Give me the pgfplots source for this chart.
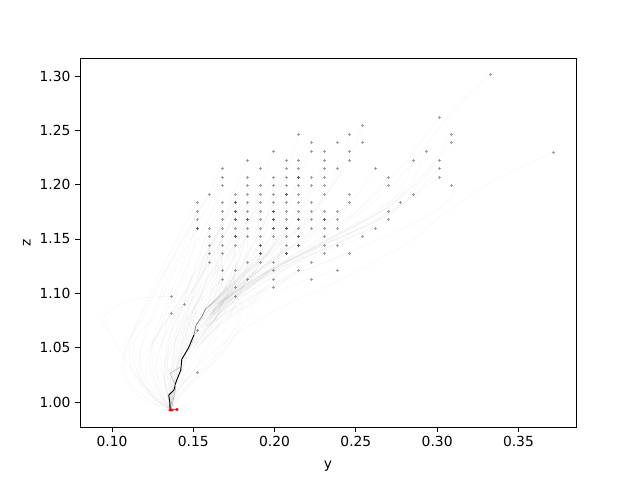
\documentclass[border=0pt]{standalone}
\usepackage{pgfplots}
\pgfplotsset{compat=1.18}
\usepackage{fontspec}
\setmainfont{DejaVu Sans}
\newcommand{\tr}[1]{\addplot[traj] coordinates {#1};}
\begin{document}
\begin{tikzpicture}[x=1pt,y=1pt]
\useasboundingbox (-60pt,-39.75pt) rectangle (420pt,320.25pt);
\begin{axis}[
  scale only axis, width=372pt, height=276.75pt,
  at={(0pt,0pt)}, anchor=south west,
  xmin=0.0803, xmax=0.3854, ymin=0.977, ymax=1.3166,
  xtick={0.10,0.15,0.20,0.25,0.30,0.35},
  ytick={1.00,1.05,1.10,1.15,1.20,1.25,1.30},
  xtick pos=bottom, ytick pos=left, tick align=outside,
  major tick length=3.65pt,
  every tick/.style={black,line width=0.6pt},
  axis line style={line width=0.6pt},
  tick label style={font=\fontsize{10.4}{12}\selectfont},
  /pgf/number format/.cd, fixed, fixed zerofill, precision=2, assume math mode=true,
  /pgfplots/.cd,
  xlabel={y}, ylabel={z},
  label style={font=\fontsize{10.4}{12}\selectfont},
  xlabel style={at={(axis description cs:0.5,-0.08)},anchor=north},
  ylabel style={at={(axis description cs:-0.09,0.5)},anchor=south},
  traj/.style={black,opacity=0.04,line width=0.35pt,smooth,no markers},
  clip=true,
]
% left arcs
\tr{(.1525,1.1838)(.140,1.150)(.125,1.105)(.112,1.06)(.112,1.03)(.124,1.005)(.136,.994)}
\tr{(.1525,1.1755)(.143,1.14)(.130,1.10)(.119,1.06)(.118,1.03)(.127,1.005)(.136,.994)}
\tr{(.1525,1.1681)(.146,1.135)(.136,1.10)(.126,1.06)(.124,1.03)(.130,1.008)(.136,.994)}
\tr{(.1525,1.1598)(.148,1.13)(.140,1.10)(.132,1.065)(.130,1.035)(.133,1.01)(.136,.994)}
\tr{(.1598,1.1911)(.147,1.16)(.133,1.12)(.120,1.08)(.108,1.05)(.110,1.02)(.125,1.0)(.136,.994)}
\tr{(.1678,1.2151)(.155,1.18)(.14,1.14)(.125,1.10)(.112,1.06)(.106,1.03)(.118,1.003)(.136,.994)}
\tr{(.1678,1.2068)(.157,1.175)(.145,1.14)(.132,1.10)(.12,1.06)(.116,1.025)(.127,1.002)(.136,.994)}
\tr{(.1678,1.1994)(.160,1.17)(.15,1.14)(.14,1.105)(.13,1.07)(.125,1.04)(.128,1.012)(.136,.994)}
\tr{(.1365,1.0973)(.12,1.096)(.105,1.09)(.0958,1.08)(.0945,1.074)(.10,1.06)(.11,1.035)(.125,1.006)(.136,.994)}
\tr{(.1365,1.0816)(.125,1.075)(.115,1.06)(.113,1.04)(.12,1.015)(.136,.994)}
\tr{(.1445,1.0899)(.133,1.075)(.125,1.055)(.123,1.03)(.128,1.01)(.136,.994)}
\tr{(.1598,1.1598)(.153,1.13)(.145,1.10)(.137,1.07)(.133,1.04)(.135,1.012)(.136,.994)}
\tr{(.1598,1.1525)(.155,1.125)(.15,1.10)(.145,1.075)(.14,1.05)(.137,1.02)(.136,.994)}
\tr{(.1598,1.1442)(.157,1.12)(.153,1.10)(.147,1.07)(.143,1.045)(.139,1.02)(.136,.994)}
\tr{(.1598,1.1368)(.152,1.115)(.143,1.095)(.135,1.07)(.128,1.04)(.129,1.015)(.136,.994)}
\tr{(.1598,1.1285)(.150,1.105)(.142,1.085)(.136,1.06)(.134,1.035)(.136,.994)}
\tr{(.1678,1.1838)(.160,1.16)(.152,1.13)(.146,1.10)(.14,1.07)(.138,1.04)(.136,.994)}
\tr{(.1678,1.1755)(.162,1.15)(.157,1.125)(.15,1.095)(.145,1.07)(.14,1.03)(.136,.994)}
\tr{(.1678,1.1681)(.162,1.14)(.158,1.115)(.153,1.09)(.147,1.06)(.141,1.03)(.136,.994)}
\tr{(.1758,1.1911)(.166,1.16)(.158,1.135)(.15,1.105)(.143,1.075)(.137,1.04)(.136,.994)}
\tr{(.1832,1.2224)(.174,1.19)(.165,1.155)(.157,1.125)(.148,1.09)(.14,1.06)(.132,1.03)(.136,.994)}
\tr{(.1912,1.2151)(.178,1.18)(.168,1.15)(.16,1.12)(.152,1.09)(.145,1.06)(.14,1.03)(.136,.994)}
\tr{(.1758,1.1838)(.165,1.155)(.152,1.12)(.138,1.085)(.124,1.05)(.122,1.02)(.136,.994)}
\tr{(.1832,1.2068)(.170,1.17)(.155,1.13)(.14,1.09)(.125,1.055)(.117,1.03)(.125,1.005)(.136,.994)}
\tr{(.1832,1.1911)(.172,1.16)(.16,1.13)(.146,1.095)(.132,1.06)(.127,1.03)(.136,.994)}
\tr{(.1912,1.1911)(.18,1.165)(.166,1.13)(.15,1.095)(.138,1.06)(.132,1.03)(.136,.994)}
\tr{(.1758,1.1755)(.166,1.145)(.155,1.115)(.143,1.085)(.134,1.055)(.132,1.025)(.136,.994)}
\tr{(.1758,1.1681)(.168,1.14)(.158,1.11)(.148,1.08)(.139,1.05)(.136,1.02)(.136,.994)}
\tr{(.1832,1.1838)(.174,1.155)(.163,1.12)(.152,1.09)(.144,1.06)(.139,1.03)(.136,.994)}
\tr{(.1912,1.1838)(.18,1.155)(.168,1.125)(.156,1.095)(.146,1.065)(.14,1.035)(.136,.994)}
\tr{(.1992,1.2068)(.187,1.175)(.175,1.145)(.162,1.115)(.15,1.085)(.142,1.055)(.136,1.02)(.136,.994)}
\tr{(.1992,1.1911)(.188,1.165)(.176,1.135)(.163,1.105)(.152,1.08)(.144,1.05)(.138,1.02)(.136,.994)}
\tr{(.1678,1.1129)(.155,1.095)(.145,1.075)(.137,1.05)(.133,1.025)(.136,.994)}
\tr{(.1758,1.1055)(.163,1.09)(.152,1.07)(.143,1.045)(.137,1.02)(.136,.994)}
\tr{(.1758,1.0973)(.165,1.08)(.155,1.06)(.146,1.04)(.139,1.015)(.136,.994)}
% converging bundle, spread endings
\tr{(.1678,1.1598)(.165,1.135)(.162,1.11)(.159,1.09)(.1578,1.0862)}
\tr{(.1678,1.1525)(.166,1.13)(.163,1.105)(.156,1.08)(.148,1.055)}
\tr{(.1678,1.1442)(.167,1.125)(.165,1.105)(.158,1.08)(.15,1.06)}
\tr{(.1678,1.1368)(.168,1.12)(.166,1.10)(.163,1.085)(.155,1.065)}
\tr{(.1678,1.1212)(.167,1.105)(.162,1.09)(.155,1.075)(.148,1.05)}
\tr{(.1758,1.1755)(.173,1.15)(.169,1.125)(.163,1.10)(.155,1.075)}
\tr{(.1758,1.1681)(.174,1.145)(.17,1.12)(.164,1.10)(.158,1.075)}
\tr{(.1758,1.1598)(.175,1.14)(.171,1.115)(.168,1.095)(.162,1.07)(.152,1.05)}
\tr{(.1758,1.1525)(.175,1.132)(.172,1.11)(.165,1.09)(.155,1.07)}
\tr{(.1758,1.1442)(.176,1.125)(.172,1.105)(.165,1.09)(.16,1.075)}
\tr{(.1758,1.1212)(.174,1.105)(.167,1.092)(.16,1.08)(.15,1.06)}
\tr{(.1832,1.1838)(.181,1.16)(.177,1.13)(.17,1.108)(.162,1.085)}
\tr{(.1832,1.1755)(.182,1.155)(.178,1.13)(.172,1.105)(.165,1.08)(.155,1.06)}
\tr{(.1832,1.1598)(.183,1.14)(.178,1.12)(.17,1.10)(.163,1.075)}
\tr{(.1832,1.1285)(.18,1.11)(.17,1.095)(.16,1.078)(.148,1.05)}
\tr{(.1912,1.1755)(.188,1.155)(.182,1.13)(.174,1.105)(.165,1.085)(.158,1.07)}
\tr{(.1912,1.1598)(.19,1.14)(.183,1.12)(.172,1.10)(.16,1.082)}
\tr{(.1912,1.1442)(.19,1.13)(.182,1.112)(.176,1.09)(.165,1.07)(.15,1.045)}
\tr{(.1912,1.1368)(.189,1.122)(.18,1.108)(.168,1.09)(.158,1.07)}
\tr{(.1992,1.2307)(.192,1.20)(.185,1.165)(.178,1.13)(.168,1.10)(.158,1.086)}
\tr{(.1992,1.1838)(.195,1.16)(.187,1.135)(.175,1.108)(.166,1.09)(.158,1.075)}
\tr{(.1992,1.1681)(.197,1.15)(.188,1.128)(.174,1.104)(.162,1.082)}
\tr{(.1992,1.1525)(.197,1.138)(.187,1.12)(.178,1.10)(.168,1.08)(.155,1.06)}
\tr{(.1992,1.1285)(.193,1.115)(.178,1.098)(.165,1.08)(.15,1.055)}
\tr{(.1992,1.1129)(.19,1.10)(.175,1.085)(.158,1.068)(.148,1.05)}
\tr{(.1992,1.1994)(.195,1.17)(.188,1.14)(.18,1.115)(.17,1.09)(.16,1.07)}
\tr{(.2072,1.2224)(.20,1.19)(.192,1.16)(.18,1.125)(.165,1.097)(.158,1.086)}
\tr{(.2072,1.1911)(.203,1.165)(.192,1.14)(.176,1.11)(.158,1.086)}
\tr{(.2072,1.1755)(.203,1.155)(.192,1.13)(.18,1.105)(.165,1.08)}
\tr{(.2072,1.1598)(.202,1.142)(.19,1.124)(.175,1.103)(.16,1.08)}
\tr{(.2072,1.1442)(.20,1.13)(.186,1.113)(.172,1.095)(.16,1.07)(.15,1.05)}
\tr{(.2072,1.1368)(.198,1.122)(.184,1.105)(.17,1.085)(.156,1.065)}
\tr{(.2146,1.2463)(.207,1.21)(.197,1.175)(.185,1.14)(.17,1.105)(.158,1.086)}
\tr{(.2146,1.2068)(.208,1.175)(.197,1.15)(.18,1.12)(.16,1.088)}
\tr{(.2146,1.1838)(.208,1.162)(.195,1.135)(.178,1.11)(.165,1.085)}
\tr{(.2146,1.1598)(.207,1.145)(.193,1.125)(.175,1.10)(.158,1.075)}
\tr{(.2146,1.1212)(.20,1.105)(.182,1.088)(.165,1.07)(.15,1.05)}
\tr{(.2225,1.239)(.215,1.205)(.204,1.175)(.188,1.14)(.17,1.105)(.158,1.086)}
\tr{(.2225,1.1994)(.214,1.17)(.20,1.145)(.182,1.118)(.16,1.088)}
\tr{(.2225,1.1681)(.212,1.15)(.197,1.13)(.178,1.107)(.162,1.08)}
\tr{(.2225,1.1285)(.205,1.113)(.187,1.095)(.168,1.075)(.152,1.05)}
\tr{(.2306,1.2224)(.222,1.19)(.207,1.16)(.188,1.13)(.168,1.10)(.158,1.086)}
\tr{(.2306,1.1911)(.222,1.17)(.205,1.148)(.185,1.122)(.162,1.09)}
\tr{(.2306,1.1681)(.218,1.152)(.20,1.132)(.18,1.108)(.16,1.08)}
\tr{(.2306,1.1442)(.215,1.133)(.196,1.118)(.178,1.10)(.16,1.075)}
\tr{(.2386,1.2151)(.23,1.185)(.212,1.155)(.19,1.128)(.168,1.10)(.158,1.086)}
\tr{(.2386,1.1681)(.225,1.155)(.205,1.137)(.183,1.112)(.162,1.085)}
\tr{(.2386,1.1442)(.222,1.135)(.20,1.12)(.18,1.10)(.158,1.07)}
\tr{(.2386,1.1212)(.215,1.11)(.195,1.097)(.175,1.08)(.155,1.055)}
\tr{(.2459,1.2463)(.24,1.21)(.222,1.172)(.198,1.14)(.172,1.107)(.158,1.086)}
\tr{(.2459,1.1838)(.23,1.162)(.208,1.14)(.185,1.115)(.16,1.086)}
\tr{(.2459,1.1368)(.225,1.125)(.20,1.11)(.178,1.09)(.158,1.07)}
\tr{(.2539,1.2546)(.245,1.22)(.225,1.18)(.20,1.145)(.175,1.11)(.158,1.086)}
\tr{(.2539,1.1525)(.235,1.14)(.21,1.125)(.185,1.108)(.162,1.08)}
\tr{(.2619,1.2151)(.245,1.18)(.222,1.155)(.197,1.13)(.172,1.103)(.158,1.086)}
\tr{(.2619,1.1598)(.24,1.147)(.215,1.13)(.188,1.105)(.165,1.08)}
\tr{(.2699,1.2068)(.25,1.175)(.228,1.155)(.20,1.13)(.175,1.105)(.16,1.088)}
\tr{(.2699,1.1755)(.248,1.157)(.222,1.14)(.195,1.12)(.17,1.095)(.155,1.075)}
\tr{(.2699,1.1681)(.248,1.152)(.22,1.135)(.193,1.115)(.17,1.09)(.152,1.065)}
\tr{(.2773,1.1838)(.26,1.165)(.235,1.147)(.205,1.127)(.178,1.10)(.16,1.08)}
\tr{(.2853,1.2224)(.275,1.19)(.25,1.165)(.22,1.14)(.19,1.115)(.165,1.09)}
\tr{(.2853,1.1911)(.27,1.172)(.245,1.155)(.215,1.135)(.185,1.11)(.16,1.08)}
\tr{(.2933,1.2307)(.283,1.20)(.26,1.172)(.23,1.148)(.195,1.12)(.162,1.088)}
\tr{(.3013,1.262)(.28,1.22)(.255,1.18)(.225,1.148)(.19,1.115)(.158,1.086)}
\tr{(.3013,1.2224)(.285,1.195)(.262,1.172)(.23,1.147)(.195,1.118)(.165,1.09)}
\tr{(.3013,1.2151)(.285,1.19)(.26,1.165)(.228,1.143)(.192,1.112)(.16,1.082)}
\tr{(.3013,1.2068)(.283,1.187)(.257,1.16)(.222,1.135)(.188,1.105)(.16,1.078)}
\tr{(.3087,1.2463)(.295,1.215)(.27,1.18)(.24,1.155)(.2,1.123)(.165,1.09)}
\tr{(.3087,1.239)(.29,1.205)(.265,1.175)(.235,1.15)(.197,1.12)(.162,1.085)}
\tr{(.3087,1.1994)(.31,1.19)(.295,1.172)(.265,1.15)(.23,1.128)(.19,1.10)(.158,1.07)}
\tr{(.3327,1.3016)(.316,1.278)(.30,1.25)(.285,1.22)(.267,1.192)(.24,1.16)(.2,1.125)(.165,1.09)}
\tr{(.3714,1.2298)(.34,1.208)(.31,1.18)(.285,1.15)(.2636,1.1307)(.23,1.105)(.195,1.08)(.165,1.05)(.145,1.02)(.136,.994)}
% lower fan
\tr{(.165,1.11)(.18,1.09)(.175,1.06)(.16,1.035)(.145,1.012)(.136,.994)}
\tr{(.17,1.10)(.178,1.08)(.17,1.055)(.155,1.03)(.142,1.008)(.136,.994)}
\tr{(.175,1.09)(.17,1.07)(.16,1.05)(.148,1.025)(.138,1.005)(.136,.994)}
\tr{(.16,1.09)(.165,1.07)(.158,1.05)(.147,1.03)(.14,1.01)(.136,.994)}
\tr{(.1525,1.066)(.148,1.05)(.143,1.035)(.139,1.015)(.136,.994)}
\tr{(.1525,1.0273)(.147,1.022)(.141,1.013)(.137,1.003)(.136,.994)}
\tr{(.19,1.10)(.18,1.07)(.165,1.04)(.15,1.018)(.136,.994)}
\tr{(.145,1.08)(.15,1.06)(.145,1.04)(.14,1.02)(.136,.994)}
\tr{(.15,1.09)(.153,1.07)(.148,1.05)(.143,1.03)(.137,1.01)(.136,.994)}
% main path
\addplot[black!50,line width=0.55pt,no markers] coordinates {(.1578,1.0862)(.1552,1.0785)(.1517,1.0709)(.1504,1.0617)};
\addplot[black,line width=0.7pt,no markers] coordinates {(.1504,1.0617)(.1469,1.0494)(.1429,1.0393)(.1423,1.0294)(.1394,1.0187)(.1381,1.0110)(.1349,1.0064)(.1355,1.0)(.1357,.9933)};
\addplot[black!30,line width=0.4pt,no markers] coordinates {(.1418,1.032)(.1357,1.0264)(.1394,1.0140)(.1378,1.0033)(.1365,.9933)};
% starting points
\addplot[only marks,mark=+,mark size=1.1pt,mark options={line width=0.55pt,black,opacity=0.38}] coordinates {
(.1525,1.1838)(.1525,1.1755)(.1525,1.1681)(.1525,1.1598)(.1525,1.066)(.1525,1.0273)(.1365,1.0973)(.1365,1.0816)(.1445,1.0899)
(.1598,1.1911)(.1598,1.1598)(.1598,1.1525)(.1598,1.1442)(.1598,1.1368)(.1598,1.1285)
(.1678,1.2151)(.1678,1.2068)(.1678,1.1994)(.1678,1.1838)(.1678,1.1755)(.1678,1.1681)(.1678,1.1598)(.1678,1.1525)(.1678,1.1442)(.1678,1.1368)(.1678,1.1212)(.1678,1.1129)
(.1758,1.1911)(.1758,1.1838)(.1758,1.1755)(.1758,1.1681)(.1758,1.1598)(.1758,1.1525)(.1758,1.1442)(.1758,1.1212)(.1758,1.1055)(.1758,1.0973)
(.1832,1.2224)(.1832,1.2068)(.1832,1.1994)(.1832,1.1911)(.1832,1.1838)(.1832,1.1755)(.1832,1.1681)(.1832,1.1598)(.1832,1.1525)(.1832,1.1285)(.1832,1.1129)
(.1912,1.2151)(.1912,1.1994)(.1912,1.1911)(.1912,1.1838)(.1912,1.1755)(.1912,1.1681)(.1912,1.1598)(.1912,1.1525)(.1912,1.1442)(.1912,1.1368)(.1912,1.1285)
(.1992,1.2307)(.1992,1.2068)(.1992,1.1994)(.1992,1.1911)(.1992,1.1838)(.1992,1.1755)(.1992,1.1681)(.1992,1.1598)(.1992,1.1525)(.1992,1.1285)(.1992,1.1212)(.1992,1.1129)(.1992,1.1055)
(.2072,1.2224)(.2072,1.2151)(.2072,1.2068)(.2072,1.1994)(.2072,1.1911)(.2072,1.1838)(.2072,1.1755)(.2072,1.1681)(.2072,1.1598)(.2072,1.1525)(.2072,1.1442)(.2072,1.1368)
(.2146,1.2463)(.2146,1.2224)(.2146,1.2151)(.2146,1.2068)(.2146,1.1994)(.2146,1.1911)(.2146,1.1838)(.2146,1.1755)(.2146,1.1681)(.2146,1.1598)(.2146,1.1525)(.2146,1.1442)(.2146,1.1212)
(.2225,1.239)(.2225,1.2307)(.2225,1.2068)(.2225,1.1994)(.2225,1.1838)(.2225,1.1755)(.2225,1.1681)(.2225,1.1598)(.2225,1.1285)(.2225,1.1129)
(.2306,1.2307)(.2306,1.2224)(.2306,1.2151)(.2306,1.2068)(.2306,1.1994)(.2306,1.1911)(.2306,1.1755)(.2306,1.1681)(.2306,1.1598)(.2306,1.1525)(.2306,1.1442)(.2306,1.1368)
(.2386,1.239)(.2386,1.2151)(.2386,1.1755)(.2386,1.1681)(.2386,1.1598)(.2386,1.1442)(.2386,1.1212)
(.2459,1.2463)(.2459,1.2307)(.2459,1.2224)(.2459,1.1911)(.2459,1.1838)(.2459,1.1368)
(.2539,1.2546)(.2539,1.239)(.2539,1.1525)
(.2619,1.2151)(.2619,1.1598)
(.2699,1.2068)(.2699,1.1994)(.2699,1.1755)(.2699,1.1681)
(.2773,1.1838)(.2853,1.2224)(.2853,1.1911)(.2933,1.2307)
(.3013,1.262)(.3013,1.2224)(.3013,1.2151)(.3013,1.2068)
(.3087,1.2463)(.3087,1.239)(.3087,1.1994)
(.3327,1.3016)(.3714,1.2298)
};
% points that carry several runs
\addplot[only marks,mark=+,mark size=1.1pt,mark options={line width=0.55pt,black,opacity=0.4}] coordinates {
(.1525,1.1598)(.1758,1.1838)(.1758,1.1755)(.1758,1.1681)(.1758,1.1525)(.1832,1.1681)(.1912,1.1442)(.1912,1.1368)
(.1992,1.1755)(.1992,1.1681)(.1992,1.1598)(.2072,1.1911)(.2072,1.1598)(.2072,1.1368)(.2146,1.2068)(.2146,1.1681)(.2146,1.1525)(.2146,1.1442)(.2306,1.1681)
};
% end points
\addplot[red,only marks,mark=*,mark size=0.95pt,mark options={red}] coordinates {(.1357,.9926)(.1369,.9926)(.1400,.9931)};
\addplot[red,line width=0.6pt,no markers] coordinates {(.1357,.9926)(.1400,.9931)};
\end{axis}
\end{tikzpicture}
\end{document}
